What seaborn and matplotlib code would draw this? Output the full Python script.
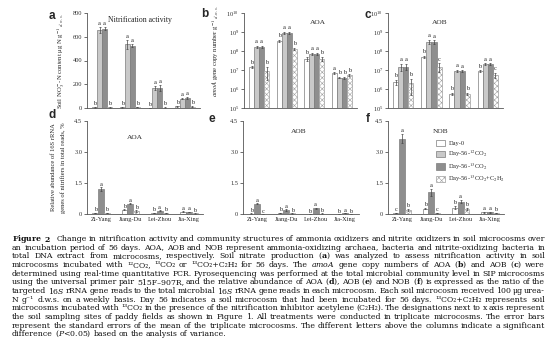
import numpy as np
import pandas as pd
import seaborn as sns
import matplotlib.pyplot as plt
from matplotlib.patches import Patch
from matplotlib.ticker import LogLocator, LogFormatterMathtext, NullLocator

sns.set_style('ticks')
plt.rcParams['font.family'] = ['Liberation Serif', 'DejaVu Serif']
plt.rcParams['mathtext.fontset'] = 'stix'
plt.rcParams['hatch.linewidth'] = 0.4

sites = ['Zi-Yang', 'Jiang-Du', 'Lei-Zhou', 'Jia-Xing']
treat4 = ['Day-0', 'Day-56-12CO2', 'Day-56-13CO2', 'Day-56-13CO2+C2H2']
treat3 = ['Day-0', 'Day-56-13CO2', 'Day-56-13CO2+C2H2']
colors = {'Day-0': 'white', 'Day-56-12CO2': '#c9c9c9',
          'Day-56-13CO2': '#8e8e8e', 'Day-56-13CO2+C2H2': 'white'}
legend_labels = ['Day-0', 'Day-56-$^{12}$CO$_2$', 'Day-56-$^{13}$CO$_2$',
                 'Day-56-$^{13}$CO$_2$+C$_2$H$_2$']

# a - soil NO3--N (ug N / g d.w.s.), one list per treatment, sites in order
no3_day0 = [5, 5, 3, 15]
no3_12c = [660, 535, 168, 80]
no3_13c = [668, 525, 172, 85]
no3_c2h2 = [5, 8, 4, 10]
no3_err = [[2, 2, 1, 4], [25, 35, 20, 8], [10, 15, 25, 10], [2, 3, 1, 3]]
no3_let = [['b', 'b', 'b', 'b'], ['a', 'a', 'a', 'a'],
           ['a', 'a', 'a', 'a'], ['b', 'b', 'b', 'b']]

# b - AOA amoA copies
aoa_day0 = [1.4e7, 3.4e8, 4.0e7, 6.7e6]
aoa_12c = [1.6e8, 9.0e8, 7.0e7, 4.0e6]
aoa_13c = [1.6e8, 9.0e8, 7.0e7, 3.8e6]
aoa_c2h2 = [9.0e6, 1.3e8, 4.0e7, 5.2e6]
aoa_err = [[1.5e6, 5e7, 1e7, 8e5], [2e7, 1.5e8, 8e6, 4e5],
           [2e7, 1.5e8, 8e6, 4e5], [6e6, 2e7, 1e7, 6e5]]
aoa_let = [['b', 'b', 'b', 'a'], ['a', 'a', 'a', 'b'],
           ['a', 'a', 'a', 'b'], ['b', 'b', 'b', 'b']]

# c - AOB amoA copies
aob_day0 = [2.4e6, 5.0e7, 5.5e5, 8.5e6]
aob_12c = [1.5e7, 3.0e8, 9.0e6, 2.0e7]
aob_13c = [1.5e7, 3.0e8, 8.5e6, 2.0e7]
aob_c2h2 = [2.0e6, 1.5e7, 5.5e5, 5.5e6]
aob_err = [[7e5, 5e6, 5e4, 1e6], [6e6, 8e7, 1e6, 2e6],
           [5e6, 6e7, 1e6, 2e6], [1.5e6, 7e6, 5e4, 1.5e6]]
aob_let = [['b', 'b', 'b', 'b'], ['a', 'a', 'a', 'a'],
           ['a', 'a', 'a', 'a'], ['b', 'c', 'b', 'c']]

# d-f - relative abundance in total reads (%)
d_day0 = [0.05, 0.20, 0.05, 0.12]
d_13c = [1.20, 0.50, 0.15, 0.10]
d_c2h2 = [0.05, 0.15, 0.05, 0.03]
d_err = [[0.02, 0.03, 0.01, 0.03], [0.10, 0.04, 0.02, 0.02], [0.02, 0.05, 0.01, 0.01]]
d_let = [['b', 'b', 'b', 'a'], ['a', 'a', 'a', 'a'], ['b', 'b', 'b', 'b']]

e_day0 = [0.02, 0.05, 0.01, 0.01]
e_13c = [0.50, 0.20, 0.28, 0.05]
e_c2h2 = [0.01, 0.03, 0.02, 0.01]
e_err = [[0.01, 0.02, 0.005, 0.005], [0.03, 0.05, 0.03, 0.01], [0.005, 0.01, 0.01, 0.005]]
e_let = [['b', 'b', 'b', 'b'], ['a', 'a', 'a', 'a'], ['c', 'b', 'b', 'b']]

f_day0 = [0.05, 0.25, 0.30, 0.08]
f_13c = [3.65, 1.05, 0.60, 0.08]
f_c2h2 = [0.20, 0.05, 0.25, 0.05]
f_err = [[0.02, 0.03, 0.08, 0.02], [0.20, 0.18, 0.06, 0.02], [0.05, 0.02, 0.05, 0.01]]
f_let = [['c', 'b', 'b', 'a'], ['a', 'a', 'a', 'a'], ['b', 'c', 'b', 'b']]

caption = [
    r'$\mathbf{Figure}$ $\mathbf{2}$   Change in nitrification activity and community structures of ammonia oxidizers and nitrite oxidizers in soil microcosms over',
    r'an incubation period of 56 days. AOA, AOB and NOB represent ammonia-oxidizing archaea, bacteria and nitrite-oxidizing bacteria in',
    r'total DNA extract from microcosms, respectively. Soil nitrate production ($\mathbf{a}$) was analyzed to assess nitrification activity in soil',
    r'microcosms incubated with ¹²CO₂, ¹³CO₂ or ¹³CO₂+C₂H₂ for 56 days. The $\mathit{amoA}$ gene copy numbers of AOA ($\mathbf{b}$) and AOB ($\mathbf{c}$) were',
    r'determined using real-time quantitative PCR. Pyrosequencing was performed at the total microbial community level in SIP microcosms',
    r'using the universal primer pair 515F–907R, and the relative abundance of AOA ($\mathbf{d}$), AOB ($\mathbf{e}$) and NOB ($\mathbf{f}$) is expressed as the ratio of the',
    r'targeted 16$\mathit{S}$ rRNA gene reads to the total microbial 16$\mathit{S}$ rRNA gene reads in each microcosm. Each soil microcosm received 100 μg urea-',
    r'N g⁻¹ d.w.s. on a weekly basis. Day 56 indicates a soil microcosm that had been incubated for 56 days. ¹³CO₂+C₂H₂ represents soil',
    r'microcosms incubated with ¹³CO₂ in the presence of the nitrification inhibitor acetylene (C₂H₂). The designations next to x axis represent',
    r'the soil sampling sites of paddy fields as shown in Figure 1. All treatments were conducted in triplicate microcosms. The error bars',
    r'represent the standard errors of the mean of the triplicate microcosms. The different letters above the columns indicate a significant',
    r'difference ($\mathit{P}$<0.05) based on the analysis of variance.',
]

W, H = 554, 359


def px(x, y, w, h):
    """pixel box (from top left) -> figure fraction rect"""
    return [x / W, 1 - (y + h) / H, w / W, h / H]


def draw_bars(ax, series, errs, letters, treats, width, log=False):
    df = pd.DataFrame({'site': np.tile(sites, len(treats)),
                       'treatment': np.repeat(treats, len(sites)),
                       'value': np.concatenate(series)})
    if log:
        ax.set_yscale('log')
    sns.barplot(data=df, x='site', y='value', hue='treatment', hue_order=treats,
                palette=colors, width=width, edgecolor='#7d7d7d', linewidth=0.5,
                errorbar=None, legend=False, ax=ax)
    lo, hi = ax.get_ylim()
    for cont, tr, err, let in zip(ax.containers, treats, errs, letters):
        xs = [p.get_x() + p.get_width() / 2 for p in cont]
        hs = [p.get_height() for p in cont]
        ax.errorbar(xs, hs, yerr=err, fmt='none', ecolor='#444444',
                    elinewidth=0.5, capsize=1.0, capthick=0.5)
        for x, h, e, l in zip(xs, hs, err, let):
            y = (h + e) * 1.25 if log else h + e + 0.012 * hi
            ax.text(x, y, l, ha='center', va='bottom', fontsize=4.6)
        if 'C2H2' in tr:
            for p in cont:
                p.set_hatch('xxxxxx')
                p.set_edgecolor('#a0a0a0')


def style(ax, xlabels):
    sns.despine(ax=ax)
    for s in ['left', 'bottom']:
        ax.spines[s].set_linewidth(0.6)
        ax.spines[s].set_color('#555555')
    ax.tick_params(axis='y', labelsize=4.6, length=2, width=0.5, pad=1.5, colors='#333333')
    ax.tick_params(axis='x', length=0, labelsize=4.6, pad=2.5)
    ax.set_xlabel('')
    ax.set_ylabel('')
    if not xlabels:
        ax.set_xticklabels([])


def log_axis(ax):
    ax.set_ylim(1e5, 1e10)
    ax.yaxis.set_major_locator(LogLocator(base=10, numticks=10))
    ax.yaxis.set_major_formatter(LogFormatterMathtext())
    ax.yaxis.set_minor_locator(NullLocator())


fig = plt.figure(figsize=(W / 100, H / 100), dpi=100)

ax_a = fig.add_axes(px(87, 13, 113, 95))
ax_b = fig.add_axes(px(244, 13, 113, 95))
ax_c = fig.add_axes(px(388, 13, 115, 95))
ax_d = fig.add_axes(px(87, 121, 116, 93))
ax_e = fig.add_axes(px(243, 121, 116, 93))
ax_f = fig.add_axes(px(388, 121, 116, 93))

draw_bars(ax_a, [no3_day0, no3_12c, no3_13c, no3_c2h2], no3_err, no3_let, treat4, 0.72)
ax_a.set_ylim(0, 800)
ax_a.set_yticks([0, 200, 400, 600, 800])
style(ax_a, False)

draw_bars(ax_b, [aoa_day0, aoa_12c, aoa_13c, aoa_c2h2], aoa_err, aoa_let, treat4, 0.72, log=True)
log_axis(ax_b)
style(ax_b, False)

draw_bars(ax_c, [aob_day0, aob_12c, aob_13c, aob_c2h2], aob_err, aob_let, treat4, 0.72, log=True)
log_axis(ax_c)
style(ax_c, False)

for ax, ser, err, let in [(ax_d, [d_day0, d_13c, d_c2h2], d_err, d_let),
                          (ax_e, [e_day0, e_13c, e_c2h2], e_err, e_let),
                          (ax_f, [f_day0, f_13c, f_c2h2], f_err, f_let)]:
    draw_bars(ax, ser, err, let, treat3, 0.6)
    ax.set_ylim(0, 4.5)
    ax.set_yticks([0, 1.5, 3.0, 4.5])
    ax.set_yticklabels(['0', '1.5', '3.0', '4.5'])
    style(ax, True)

# titles
ax_a.text(0.47, 0.93, 'Nitrification activity', transform=ax_a.transAxes, ha='center', va='center', fontsize=5.6)
ax_b.text(0.65, 0.9, 'AOA', transform=ax_b.transAxes, ha='center', va='center', fontsize=5.4)
ax_c.text(0.45, 0.9, 'AOB', transform=ax_c.transAxes, ha='center', va='center', fontsize=5.4)
ax_d.text(0.41, 0.82, 'AOA', transform=ax_d.transAxes, ha='center', va='center', fontsize=5.4)
ax_e.text(0.48, 0.89, 'AOB', transform=ax_e.transAxes, ha='center', va='center', fontsize=5.4)
ax_f.text(0.45, 0.89, 'NOB', transform=ax_f.transAxes, ha='center', va='center', fontsize=5.4)

# y labels
ax_a.set_ylabel(r'Soil NO$_3^-$-N content μg N g$^{-1}$ $_{d.w.s.}$', fontsize=4.8, labelpad=4)
ax_b.set_ylabel(r'$\mathit{amoA}$ gene copy number g$^{-1}$ $_{d.w.s.}$', fontsize=4.8, labelpad=3)
ax_b.yaxis.set_label_coords(-0.2, 0.6)
ax_d.set_ylabel('Relative abundance of 16S rRNA\ngenes of nitrifiers in total reads, %',
                fontsize=4.7, labelpad=6, linespacing=1.9)

# panel letters
for lab, (x, y) in zip('abcdef', [(52, 16), (205, 14), (368, 15), (52, 115), (212, 119), (368, 119)]):
    fig.text(x / W, 1 - y / H, lab, fontsize=8.5, fontweight='bold', family='Liberation Sans',
             ha='center', va='center')

# legend
handles = [Patch(facecolor=colors[t], edgecolor='#a0a0a0' if 'C2H2' in t else '#7d7d7d',
                 linewidth=0.5, hatch='xxxxxx' if 'C2H2' in t else None) for t in treat4]
ax_f.legend(handles, legend_labels, loc='upper left', bbox_to_anchor=(0.36, 0.86), frameon=False,
            fontsize=4.6, handlelength=1.5, handleheight=1.1, labelspacing=0.3, handletextpad=0.5)

# caption, justified line by line
renderer = fig.canvas.get_renderer()
x0, x1 = 12, 545
for i, line in enumerate(caption):
    y = 1 - (239 + i * 8.65) / H
    words = [w for w in line.split(' ') if w != '']
    texts = [fig.text(0, y, w, fontsize=5.55, family=['DejaVu Serif', 'DejaVu Sans'],
                      math_fontfamily='dejavuserif', va='center', ha='left', color='#111111')
             for w in words]
    widths = [t.get_window_extent(renderer).width for t in texts]
    extra = 4 if i == 0 else 0
    if i == len(caption) - 1:
        gap = 2.0
    else:
        gap = max((x1 - x0 - extra - sum(widths)) / (len(texts) - 1), 0.8)
    x = x0
    for k, (t, w) in enumerate(zip(texts, widths)):
        t.set_x(x / W)
        x += w + gap + (extra if k == 1 else 0)

fig.savefig('out.png', dpi=100)
